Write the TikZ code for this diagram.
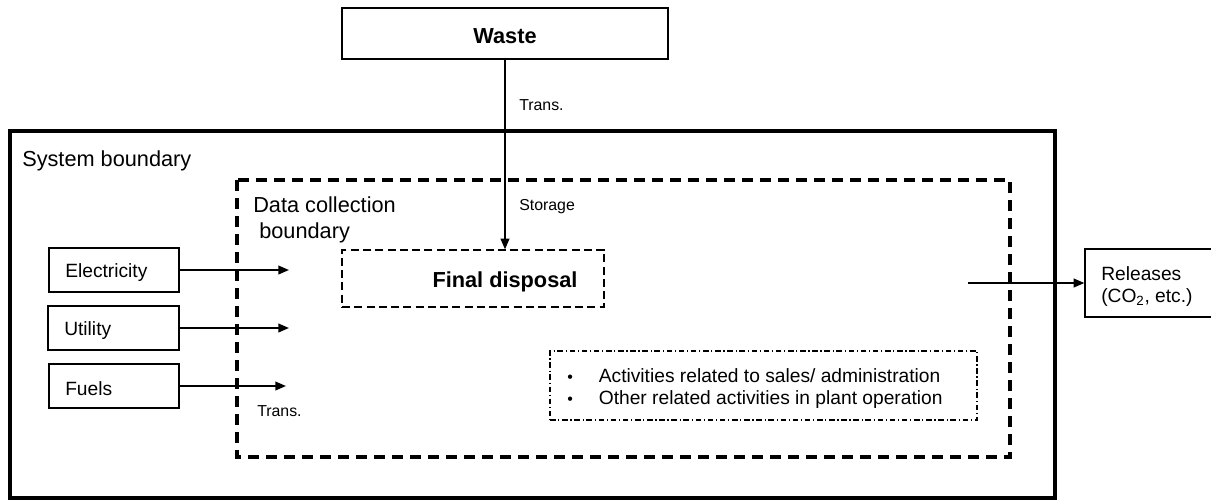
\documentclass[tikz,border=0pt]{standalone}
\usepackage{fontspec}
\setmainfont{Liberation Sans}
\usetikzlibrary{arrows.meta,calc}

\tikzset{
  plainbox/.style={draw, line width=0.9pt, inner sep=0pt, fill=white},
  txt/.style={inner sep=0pt, yshift=-2pt, font=\fontsize{14.4}{16.5}\selectfont},
  bigtxt/.style={inner sep=0pt, yshift=-2pt, font=\fontsize{16.3}{20.6}\selectfont},
  boldtxt/.style={inner sep=0pt, yshift=-1.5pt, font=\fontsize{16.3}{19}\selectfont\bfseries},
  smalltxt/.style={inner sep=0pt, yshift=-1.5pt, font=\fontsize{11.9}{14}\selectfont},
  flow/.style={line width=1.3pt, -{Triangle[length=8pt,width=6.5pt]}},
  sysline/.style={line width=3.1pt},
  dcline/.style={line width=3.3pt, dash pattern=on 8.4pt off 5.1pt},
  fdline/.style={draw, line width=0.9pt, dash pattern=on 6pt off 3.2pt},
  actline/.style={draw, line width=0.8pt, dash pattern=on 4.2pt off 2pt on 0.9pt off 2pt},
}

\begin{document}
\begin{tikzpicture}[x=0.75pt, y=-0.75pt]
\useasboundingbox (0,0) rectangle (1211,501);

% system boundary and data collection boundary
\draw[sysline] (10,131) rectangle (1055,498);
\node[bigtxt, anchor=west] (sysl) at (22,158) {System boundary};
\draw[dcline] (237,180) rectangle (1010,457);
\node[bigtxt, anchor=west] (dcl1) at (253,202) {Data collection};
\node[bigtxt, anchor=west] (dcl2) at (259,230) {boundary};

% waste source and final disposal
\node[plainbox, minimum width=244.5pt, minimum height=38.25pt] (waste) at (505,33.5) {};
\node[boldtxt] (wastel) at (505,34) {Waste};

\node[fdline, inner sep=0pt, minimum width=196.5pt, minimum height=42.75pt] (fd) at (473,278.5) {};
\node[boldtxt] (fdl) at (505,280) {Final disposal};

\draw[flow] (waste.south) -- (waste.south |- fd.north);
\node[smalltxt, anchor=west] (trans1) at (519,103) {Trans.};
\node[smalltxt, anchor=west] (stor) at (519,205) {Storage};

% inputs
\node[plainbox, minimum width=97.5pt, minimum height=33pt] (elec) at (114,270) {};
\node[txt, anchor=west] (elecl) at (65,270) {Electricity};
\node[plainbox, minimum width=98.25pt, minimum height=33pt] (util) at (113.5,328) {};
\node[txt, anchor=west] (utill) at (64,328) {Utility};
\node[plainbox, minimum width=97.5pt, minimum height=33pt] (fuel) at (114,386) {};
\node[txt, anchor=west] (fuell) at (65,386) {Fuels};

\coordinate (ein) at (289,270);
\coordinate (uin) at (289,328);
\coordinate (fin) at (286,386);
\draw[flow] (elec.east) -- (ein);
\draw[flow] (util.east) -- (uin);
\draw[flow] (fuel.east) -- (fin);
\node[smalltxt, anchor=west] (trans2) at (257,409) {Trans.};

% other activities
\node[actline, inner sep=0pt, minimum width=320.25pt, minimum height=51.75pt] (act) at (763.5,385.5) {};
\node[txt, anchor=west] (actl) at (567,386)
  {\begin{tabular}{@{}l@{\hspace{19.5pt}}l@{}}
   \fontsize{12}{16.5}\selectfont\textbullet & Activities related to sales/ administration\\
   \fontsize{12}{16.5}\selectfont\textbullet & Other related activities in plant operation
   \end{tabular}};

% releases (box runs off the right edge)
\node[plainbox, minimum width=127.5pt, minimum height=51pt] (rel) at (1170,283) {};
\node[txt, anchor=west, align=left] (rell) at (1101,284) {Releases\\(CO\textsubscript{2}, etc.)};
\coordinate (rout) at (968,283);
\draw[flow] (rout) -- (rel.west);
\end{tikzpicture}
\end{document}
